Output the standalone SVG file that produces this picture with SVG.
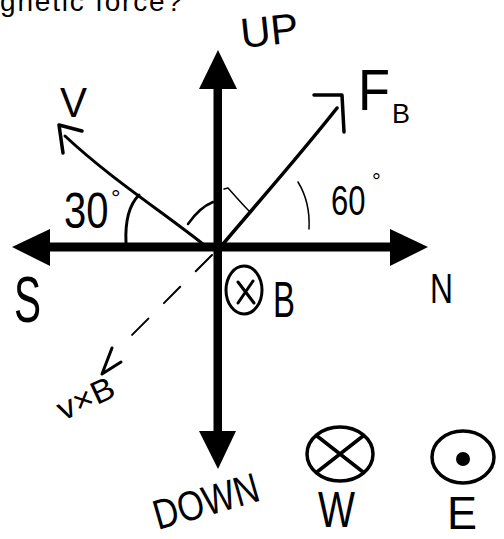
<svg xmlns="http://www.w3.org/2000/svg" width="504" height="539" viewBox="0 0 504 539">
<style>
.ink{stroke:#000;fill:none;stroke-linecap:round;stroke-linejoin:round}
.t{font-family:"Liberation Sans",Arial,sans-serif;fill:#000}
.solid{fill:#000;stroke:none}
</style>
<rect width="504" height="539" fill="#fff"/>
<g id="title">
<text class="t" x="0" y="11" font-size="28" textLength="182" lengthAdjust="spacing">gnetic force?</text>
</g>
<g id="axes">
<rect class="solid" x="213.5" y="86" width="8.5" height="348"/>
<rect class="solid" x="48" y="242.5" width="344" height="9"/>
<polygon class="solid" points="218,50 199,89 237,89"/>
<polygon class="solid" points="199,431 236,431 218,469"/>
<polygon class="solid" points="12,247 50,229 50,266"/>
<polygon class="solid" points="428,247 390,229 390,266"/>
</g>
<g id="connectors">
<path id="v-vector" class="ink" stroke-width="3" d="M203,244 C160,210 110,178 65,136"/>
<polyline class="ink" stroke-width="3.5" points="82,131 59,125 63,153"/>
<path id="fb-vector" class="ink" stroke-width="3.5" d="M223,244 C260,200 300,155 337,108"/>
<polyline class="ink" stroke-width="3.5" points="314,95 342,95 344,132"/>
<path id="vxb-vector" class="ink" stroke-width="2" stroke-dasharray="23 22" d="M212,255 L123,344"/>
<polyline class="ink" stroke-width="3" points="112,348 102,374 121,362"/>
</g>
<g id="angles">
<path class="ink" stroke-width="3" d="M126,243 C125,222 129,205 139,195"/>
<path class="ink" stroke-width="2.5" d="M188,224 C195,214 203,206 213,202"/>
<path class="ink" stroke-width="1.5" d="M224,189 L228,188 C236,197 243,205 250,212"/>
<path class="ink" stroke-width="1.5" d="M298,182 C306,195 310,210 309,229"/>
</g>
<g id="label-up"><text class="t" x="242" y="48" font-size="42" textLength="58" lengthAdjust="spacingAndGlyphs" transform="rotate(-6 242 48)">UP</text></g>
<g id="label-v"><text class="t" x="60" y="117" font-size="42" textLength="27" lengthAdjust="spacingAndGlyphs">V</text></g>
<g id="label-fb"><text class="t" x="358" y="110" font-size="58" textLength="32" lengthAdjust="spacingAndGlyphs">F</text><text class="t" x="392" y="123" font-size="28" textLength="18" lengthAdjust="spacingAndGlyphs">B</text></g>
<g id="label-30"><text class="t" x="0" y="0" font-size="40" transform="translate(64 228) scale(1 1.25)">30</text><text class="t" x="111" y="206" font-size="24">°</text></g>
<g id="label-60"><text class="t" x="0" y="0" font-size="31" transform="translate(331 215) scale(1 1.4)">60</text><text class="t" x="372" y="189" font-size="22">°</text></g>
<g id="label-s"><text class="t" x="14" y="322" font-size="64" textLength="27" lengthAdjust="spacingAndGlyphs">S</text></g>
<g id="label-n"><text class="t" x="430" y="303" font-size="42" textLength="23" lengthAdjust="spacingAndGlyphs">N</text></g>
<g id="b-field">
<ellipse class="ink" stroke-width="3" cx="244" cy="290" rx="18" ry="24"/>
<path class="ink" stroke-width="3" d="M238,282 L254,303 M253,281 L238,303"/>
<text class="t" x="273" y="317" font-size="50" textLength="22" lengthAdjust="spacingAndGlyphs">B</text>
</g>
<g id="label-vxb"><text class="t" x="63" y="421" font-size="32" textLength="60" lengthAdjust="spacingAndGlyphs" transform="rotate(-25 63 421)">v×B</text></g>
<g id="label-down"><text class="t" x="158" y="530" font-size="42" textLength="108" lengthAdjust="spacingAndGlyphs" transform="rotate(-16 158 530)">DOWN</text></g>
<g id="into-page-w">
<ellipse class="ink" stroke-width="3.5" cx="340" cy="454" rx="33" ry="27"/>
<path class="ink" stroke-width="3.5" d="M317,436 L363,472 M363,436 L317,472"/>
<text class="t" x="318" y="527" font-size="50" textLength="37" lengthAdjust="spacingAndGlyphs">W</text>
</g>
<g id="out-of-page-e">
<ellipse class="ink" stroke-width="3.5" cx="463" cy="457" rx="31" ry="26"/>
<circle class="solid" cx="463" cy="459" r="7"/>
<text class="t" x="447" y="529" font-size="46" textLength="30" lengthAdjust="spacingAndGlyphs">E</text>
</g>
</svg>
